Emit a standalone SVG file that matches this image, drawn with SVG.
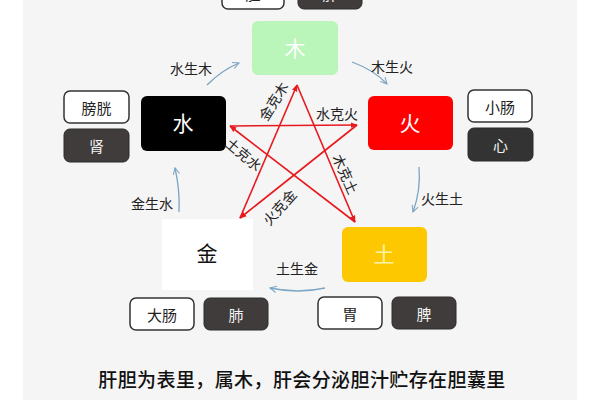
<svg xmlns="http://www.w3.org/2000/svg" width="600" height="400" viewBox="0 0 600 400">
<style>
text{font-family:"Noto Sans CJK SC","Noto Sans",sans-serif;text-anchor:middle;dominant-baseline:central}
.organW{fill:#ffffff;stroke:#333;stroke-width:1.5}
.organD{fill:#403c3c;stroke:#2a2a2a;stroke-width:1}
.tW{font-size:15px;fill:#222}
.tD{font-size:15px;fill:#f2f2f2}
.el{font-size:21px;fill:#fff}
.lbl{font-size:14px;fill:#222}
.ke{stroke:#e8191e;stroke-width:1.6;fill:none;marker-end:url(#ra)}
.sheng{stroke:#7ba6c4;stroke-width:1.3;fill:none;marker-end:url(#ba)}
</style>
<defs>
<marker id="ra" viewBox="0 0 10 10" refX="9" refY="5" markerWidth="7" markerHeight="7" orient="auto" markerUnits="userSpaceOnUse">
<path d="M0,1 L10,5 L0,9 Z" fill="#e8191e"/>
</marker>
<marker id="ba" viewBox="0 0 10 10" refX="9" refY="5" markerWidth="8" markerHeight="8" orient="auto" markerUnits="userSpaceOnUse">
<path d="M1,1 L9,5 L1,9" fill="none" stroke="#7ba6c4" stroke-width="1.3"/>
</marker>
</defs>
<rect x="0" y="0" width="600" height="400" fill="#ffffff"/>
<rect x="23" y="0" width="554" height="400" fill="#f5f5f5"/>

<g id="top-organs">
<rect class="organW" x="222" y="-23" width="62" height="32" rx="6"/>
<text class="tW" x="253" y="-7">胆</text>
<rect class="organD" x="298" y="-23" width="64" height="32" rx="6"/>
<text class="tD" x="330" y="-7">肝</text>
</g>

<g id="wood">
<rect x="252" y="21" width="86" height="54" rx="6" fill="#baf5ba"/>
<text class="el" x="295" y="47">木</text>
</g>
<g id="water">
<rect x="141" y="96" width="85" height="55" rx="6" fill="#000"/>
<text class="el" x="183" y="122">水</text>
</g>
<g id="fire">
<rect x="368" y="96" width="85" height="54" rx="6" fill="#ff0000"/>
<text class="el" x="410" y="122">火</text>
</g>
<g id="earth">
<rect x="342" y="227" width="85" height="55" rx="6" fill="#fdc800"/>
<text class="el" x="384" y="253" style="fill:#fff3a8">土</text>
</g>
<g id="metal">
<rect x="162" y="219" width="91" height="71" fill="#ffffff"/>
<text class="el" x="207" y="252" style="fill:#111">金</text>
</g>

<g id="water-organs">
<rect class="organW" x="64" y="91" width="65" height="32" rx="6"/>
<text class="tW" x="96.5" y="107">膀胱</text>
<rect class="organD" x="64" y="129" width="65" height="33" rx="6"/>
<text class="tD" x="96.5" y="145.5">肾</text>
</g>
<g id="fire-organs">
<rect class="organW" x="468" y="90" width="64" height="32" rx="6"/>
<text class="tW" x="500" y="106">小肠</text>
<rect class="organD" x="468" y="128" width="65" height="33" rx="6" style="fill:#333"/>
<text class="tD" x="500.5" y="144.5">心</text>
</g>
<g id="metal-organs">
<rect class="organW" x="130" y="298" width="64" height="32" rx="6"/>
<text class="tW" x="162" y="314">大肠</text>
<rect class="organD" x="204" y="298" width="64" height="32" rx="6"/>
<text class="tD" x="236" y="314">肺</text>
</g>
<g id="earth-organs">
<rect class="organW" x="318" y="297" width="64" height="32" rx="6"/>
<text class="tW" x="350" y="313">胃</text>
<rect class="organD" x="392" y="297" width="64" height="32" rx="6"/>
<text class="tD" x="424" y="313">脾</text>
</g>

<g id="connectors">
<line class="ke" x1="240" y1="218" x2="297" y2="85"/>
<line class="ke" x1="230" y1="126" x2="357" y2="125"/>
<line class="ke" x1="357" y1="125" x2="240" y2="218"/>
<line class="ke" x1="297" y1="85" x2="355" y2="222"/>
<line class="ke" x1="355" y1="222" x2="230" y2="126"/>

<path class="sheng" d="M207,85 Q222,70 239,63"/>
<path class="sheng" d="M352,62 Q374,70 387,84"/>
<path class="sheng" d="M419,167 Q421,190 413,212"/>
<path class="sheng" d="M325,288 Q298,294 270,288"/>
<path class="sheng" d="M179,212 Q180,190 175,168"/>

<text class="lbl" x="191" y="68">水生木</text>
<text class="lbl" x="392" y="66">木生火</text>
<text class="lbl" x="442" y="198">火生土</text>
<text class="lbl" x="297" y="268">土生金</text>
<text class="lbl" x="152" y="203">金生水</text>

<text class="lbl" transform="translate(273,101) rotate(-58)">金克木</text>
<text class="lbl" x="337" y="113">水克火</text>
<text class="lbl" transform="translate(244,154) rotate(40)">土克水</text>
<text class="lbl" transform="translate(346,174) rotate(66)">木克土</text>
<text class="lbl" transform="translate(279,207) rotate(-48)">火克金</text>
</g>

<text x="302" y="378" style="font-size:19px;fill:#111;font-weight:500;letter-spacing:0.4px">肝胆为表里，属木，肝会分泌胆汁贮存在胆囊里</text>
</svg>
